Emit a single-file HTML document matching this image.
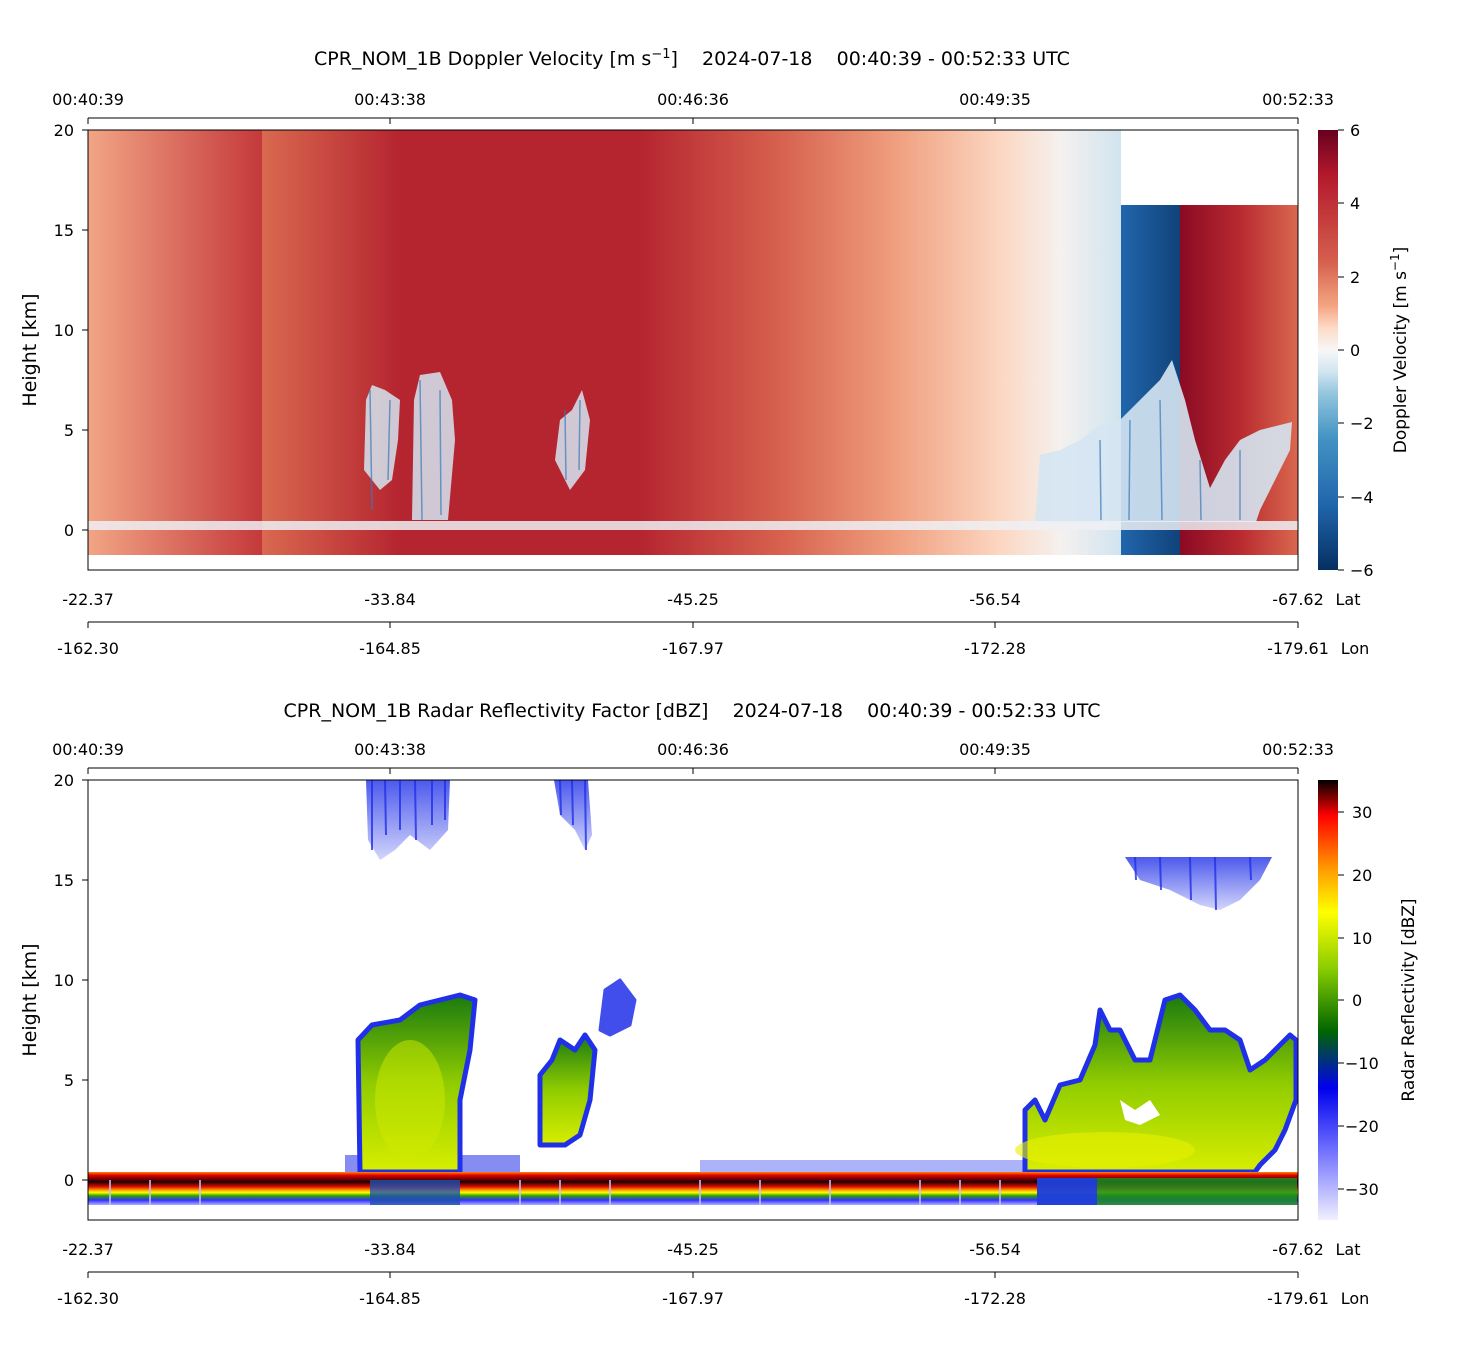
<!DOCTYPE html>
<html><head><meta charset="utf-8"><style>
body{margin:0;background:#fff;}
svg text{font-family:"DejaVu Sans","Liberation Sans",sans-serif;fill:#000;white-space:pre;}
</style></head><body>
<svg width="1459" height="1350" viewBox="0 0 1459 1350" xmlns="http://www.w3.org/2000/svg" xml:space="preserve">
<defs>
<linearGradient id="tg1" gradientUnits="userSpaceOnUse" x1="88" y1="0" x2="262" y2="0">
<stop offset="0" stop-color="#f2a585"/><stop offset="1" stop-color="#c4393b"/></linearGradient>
<linearGradient id="tg2" gradientUnits="userSpaceOnUse" x1="262" y1="0" x2="1121" y2="0">
<stop offset="0" stop-color="#d9694f"/><stop offset="0.16" stop-color="#b52530"/><stop offset="0.44" stop-color="#b52530"/>
<stop offset="0.6" stop-color="#d6604d"/><stop offset="0.74" stop-color="#f0a080"/><stop offset="0.86" stop-color="#fcd7c2"/>
<stop offset="0.93" stop-color="#f5f1ef"/><stop offset="1" stop-color="#d1e4ef"/></linearGradient>
<linearGradient id="tb" x1="0" y1="0" x2="1" y2="0"><stop offset="0" stop-color="#2166ac"/><stop offset="1" stop-color="#11427a"/></linearGradient>
<linearGradient id="tr" x1="0" y1="0" x2="1" y2="0"><stop offset="0" stop-color="#8a0a24"/><stop offset="0.5" stop-color="#b8292f"/><stop offset="1" stop-color="#d9684f"/></linearGradient>
<linearGradient id="cb1" x1="0" y1="0" x2="0" y2="1">
<stop offset="0" stop-color="#67001f"/><stop offset="0.1" stop-color="#b2182b"/><stop offset="0.3" stop-color="#d6604d"/><stop offset="0.4" stop-color="#f4a582"/><stop offset="0.45" stop-color="#fddbc7"/><stop offset="0.5" stop-color="#f7f7f7"/><stop offset="0.55" stop-color="#d1e5f0"/><stop offset="0.6" stop-color="#92c5de"/><stop offset="0.7" stop-color="#4393c3"/><stop offset="0.85" stop-color="#2166ac"/><stop offset="1" stop-color="#053061"/></linearGradient>
<linearGradient id="cb2" x1="0" y1="0" x2="0" y2="1">
<stop offset="0" stop-color="#000000"/><stop offset="0.08" stop-color="#ff0000"/><stop offset="0.2" stop-color="#ff9900"/><stop offset="0.3" stop-color="#ffff00"/><stop offset="0.43" stop-color="#88cc00"/><stop offset="0.57" stop-color="#006600"/><stop offset="0.7" stop-color="#0000ee"/><stop offset="0.85" stop-color="#7777ff"/><stop offset="1" stop-color="#f0f0ff"/></linearGradient>
<linearGradient id="gc" x1="0" y1="0" x2="0" y2="1"><stop offset="0" stop-color="#1a7a10"/><stop offset="0.5" stop-color="#90cc00"/><stop offset="1" stop-color="#d8ee00"/></linearGradient>
<linearGradient id="sf" x1="0" y1="0" x2="0" y2="1">
<stop offset="0" stop-color="#ff8800"/><stop offset="0.1" stop-color="#e00000"/><stop offset="0.3" stop-color="#200000"/><stop offset="0.45" stop-color="#e01000"/><stop offset="0.55" stop-color="#ffa000"/><stop offset="0.62" stop-color="#ffff00"/><stop offset="0.72" stop-color="#30a000"/><stop offset="0.85" stop-color="#3030ff"/><stop offset="1" stop-color="#b0b0ff"/></linearGradient>
<linearGradient id="bt" x1="0" y1="0" x2="0" y2="1"><stop offset="0" stop-color="#2030e8" stop-opacity="0.8"/><stop offset="1" stop-color="#2030e8" stop-opacity="0.2"/></linearGradient>
</defs>

<!-- TOP PLOT -->
<text x="692" y="65" font-size="19" text-anchor="middle">CPR_NOM_1B Doppler Velocity [m s<tspan dy="-7" font-size="13">−1</tspan><tspan dy="7">]    2024-07-18    00:40:39 - 00:52:33 UTC</tspan></text>
<rect x="88" y="130" width="174" height="425" fill="url(#tg1)"/>
<rect x="262" y="130" width="859" height="425" fill="url(#tg2)"/>
<rect x="1121" y="205" width="59" height="350" fill="url(#tb)"/>
<rect x="1180" y="205" width="118" height="350" fill="url(#tr)"/>
<polygon points="1035,522 1040,455 1060,450 1080,440 1100,425 1120,420 1140,400 1160,380 1172,360 1185,400 1195,440 1210,488 1225,460 1240,440 1260,430 1292,422 1290,450 1275,480 1260,510 1256,522" fill="#d5e6f2" opacity="0.9"/>
<g fill="#d5e6f2" opacity="0.85">
<polygon points="364,470 366,400 372,385 385,390 400,400 398,440 392,480 380,490"/>
<polygon points="412,520 414,400 420,375 440,372 452,400 455,440 448,520"/>
<polygon points="555,460 560,420 572,410 582,390 590,420 585,470 570,490"/>
</g>
<g stroke="#3a7ab8" stroke-width="1.5" opacity="0.7">
<line x1="370" y1="390" x2="372" y2="510"/><line x1="390" y1="400" x2="388" y2="480"/><line x1="420" y1="380" x2="422" y2="520"/><line x1="440" y1="390" x2="441" y2="515"/><line x1="565" y1="410" x2="566" y2="480"/><line x1="580" y1="400" x2="579" y2="470"/>
<line x1="1100" y1="440" x2="1101" y2="520"/><line x1="1130" y1="420" x2="1129" y2="520"/><line x1="1160" y1="400" x2="1162" y2="520"/><line x1="1200" y1="460" x2="1201" y2="520"/><line x1="1240" y1="450" x2="1240" y2="520"/>
</g>
<rect x="88" y="521" width="1210" height="9" fill="#eef0f4" opacity="0.85"/>
<rect x="88" y="130" width="1210" height="440" fill="none" stroke="#000" stroke-width="1"/>
<line x1="88" y1="118" x2="1298" y2="118" stroke="#000"/>
<g stroke="#000"><line x1="88" y1="118" x2="88" y2="124"/><line x1="390" y1="118" x2="390" y2="124"/><line x1="693" y1="118" x2="693" y2="124"/><line x1="995" y1="118" x2="995" y2="124"/><line x1="1298" y1="118" x2="1298" y2="124"/></g>
<g font-size="16" text-anchor="middle"><text x="88" y="105">00:40:39</text><text x="390" y="105">00:43:38</text><text x="693" y="105">00:46:36</text><text x="995" y="105">00:49:35</text><text x="1298" y="105">00:52:33</text></g>
<g stroke="#000"><line x1="82" y1="130" x2="88" y2="130"/><line x1="82" y1="230" x2="88" y2="230"/><line x1="82" y1="330" x2="88" y2="330"/><line x1="82" y1="430" x2="88" y2="430"/><line x1="82" y1="530" x2="88" y2="530"/></g>
<g font-size="16" text-anchor="end"><text x="74" y="136">20</text><text x="74" y="236">15</text><text x="74" y="336">10</text><text x="74" y="436">5</text><text x="74" y="536">0</text></g>
<text transform="translate(36,350) rotate(-90)" font-size="19" text-anchor="middle">Height [km]</text>
<g font-size="16" text-anchor="middle"><text x="88" y="605">-22.37</text><text x="390" y="605">-33.84</text><text x="693" y="605">-45.25</text><text x="995" y="605">-56.54</text><text x="1298" y="605">-67.62</text><text x="1348" y="605">Lat</text>
<text x="88" y="654">-162.30</text><text x="390" y="654">-164.85</text><text x="693" y="654">-167.97</text><text x="995" y="654">-172.28</text><text x="1298" y="654">-179.61</text><text x="1355" y="654">Lon</text></g>
<line x1="88" y1="622" x2="1298" y2="622" stroke="#000"/>
<g stroke="#000"><line x1="88" y1="622" x2="88" y2="628"/><line x1="390" y1="622" x2="390" y2="628"/><line x1="693" y1="622" x2="693" y2="628"/><line x1="995" y1="622" x2="995" y2="628"/><line x1="1298" y1="622" x2="1298" y2="628"/></g>
<rect x="1318" y="130" width="20" height="440" fill="url(#cb1)"/>
<g stroke="#000"><line x1="1338" y1="130" x2="1344" y2="130"/><line x1="1338" y1="203" x2="1344" y2="203"/><line x1="1338" y1="277" x2="1344" y2="277"/><line x1="1338" y1="350" x2="1344" y2="350"/><line x1="1338" y1="423" x2="1344" y2="423"/><line x1="1338" y1="497" x2="1344" y2="497"/><line x1="1338" y1="570" x2="1344" y2="570"/></g>
<g font-size="16"><text x="1350" y="136">6</text><text x="1350" y="209">4</text><text x="1350" y="283">2</text><text x="1350" y="356">0</text><text x="1350" y="429">−2</text><text x="1350" y="503">−4</text><text x="1350" y="576">−6</text></g>
<text transform="translate(1406,350) rotate(-90)" font-size="17" text-anchor="middle">Doppler Velocity [m s<tspan dy="-7" font-size="12">−1</tspan><tspan dy="7">]</tspan></text>

<!-- BOTTOM PLOT -->
<text x="692" y="717" font-size="19" text-anchor="middle">CPR_NOM_1B Radar Reflectivity Factor [dBZ]    2024-07-18    00:40:39 - 00:52:33 UTC</text>
<g fill="url(#bt)">
<polygon points="366,780 450,780 448,830 430,850 410,835 395,850 380,860 368,840"/>
<polygon points="554,780 588,780 592,835 585,850 575,830 560,815"/>
<polygon points="1125,857 1272,857 1260,880 1240,900 1220,910 1200,905 1170,890 1140,880"/>
</g>
<g stroke="#2030e8" stroke-width="2" opacity="0.8">
<line x1="372" y1="780" x2="372" y2="850"/><line x1="385" y1="780" x2="386" y2="835"/><line x1="400" y1="780" x2="400" y2="830"/><line x1="415" y1="780" x2="416" y2="840"/><line x1="432" y1="780" x2="432" y2="825"/><line x1="445" y1="780" x2="445" y2="820"/>
<line x1="560" y1="780" x2="561" y2="815"/><line x1="572" y1="780" x2="573" y2="825"/><line x1="585" y1="780" x2="586" y2="850"/>
<line x1="1135" y1="857" x2="1136" y2="880"/><line x1="1160" y1="857" x2="1161" y2="890"/><line x1="1190" y1="857" x2="1191" y2="900"/><line x1="1215" y1="857" x2="1216" y2="910"/><line x1="1250" y1="857" x2="1251" y2="880"/>
</g>
<g fill="#2030e8" stroke="#2030e8" stroke-width="3" stroke-linejoin="round" opacity="0.85">
<polygon points="600,1030 605,990 620,980 635,1000 630,1025 610,1035"/>
</g>
<rect x="700" y="1160" width="335" height="12" fill="#3040f0" opacity="0.4"/>
<rect x="345" y="1155" width="175" height="17" fill="#2030e8" opacity="0.55"/>
<g fill="url(#gc)" stroke="#2030e8" stroke-width="5" stroke-linejoin="round">
<polygon points="360,1172 358,1040 372,1025 400,1020 420,1005 440,1000 460,995 475,1000 470,1050 460,1100 460,1172"/>
<polygon points="540,1145 540,1075 552,1060 560,1040 575,1050 585,1035 595,1050 590,1100 580,1135 565,1145"/>
<polygon points="1025,1172 1025,1110 1035,1100 1045,1120 1060,1085 1080,1080 1095,1045 1100,1010 1110,1030 1120,1030 1135,1060 1150,1060 1165,1000 1180,995 1195,1010 1210,1030 1225,1030 1240,1040 1250,1070 1265,1060 1290,1035 1296,1040 1296,1100 1285,1130 1275,1150 1260,1165 1255,1172"/>
</g>
<polygon points="1120,1100 1135,1110 1150,1100 1160,1115 1140,1125 1125,1120" fill="#fff"/>
<ellipse cx="1105" cy="1150" rx="90" ry="18" fill="#e8f000" opacity="0.6"/>
<ellipse cx="410" cy="1100" rx="35" ry="60" fill="#d0ea00" opacity="0.5"/>
<rect x="88" y="1172" width="1210" height="33" fill="url(#sf)"/>
<rect x="1037" y="1178" width="260" height="27" fill="#1a8a20" opacity="0.85"/>
<rect x="1037" y="1178" width="60" height="27" fill="#2030ff" opacity="0.8"/>
<rect x="370" y="1180" width="90" height="25" fill="#1f50b0" opacity="0.8"/>
<g stroke="#c0c0ff" stroke-width="2" opacity="0.8">
<line x1="110" y1="1180" x2="110" y2="1205"/><line x1="150" y1="1180" x2="150" y2="1205"/><line x1="200" y1="1180" x2="200" y2="1205"/><line x1="520" y1="1180" x2="520" y2="1205"/><line x1="560" y1="1180" x2="560" y2="1205"/><line x1="610" y1="1180" x2="610" y2="1205"/><line x1="700" y1="1180" x2="700" y2="1205"/><line x1="760" y1="1180" x2="760" y2="1205"/><line x1="830" y1="1180" x2="830" y2="1205"/><line x1="920" y1="1180" x2="920" y2="1205"/><line x1="960" y1="1180" x2="960" y2="1205"/><line x1="1000" y1="1180" x2="1000" y2="1205"/>
</g>
<rect x="88" y="780" width="1210" height="440" fill="none" stroke="#000" stroke-width="1"/>
<line x1="88" y1="768" x2="1298" y2="768" stroke="#000"/>
<g stroke="#000"><line x1="88" y1="768" x2="88" y2="774"/><line x1="390" y1="768" x2="390" y2="774"/><line x1="693" y1="768" x2="693" y2="774"/><line x1="995" y1="768" x2="995" y2="774"/><line x1="1298" y1="768" x2="1298" y2="774"/></g>
<g font-size="16" text-anchor="middle"><text x="88" y="755">00:40:39</text><text x="390" y="755">00:43:38</text><text x="693" y="755">00:46:36</text><text x="995" y="755">00:49:35</text><text x="1298" y="755">00:52:33</text></g>
<g stroke="#000"><line x1="82" y1="780" x2="88" y2="780"/><line x1="82" y1="880" x2="88" y2="880"/><line x1="82" y1="980" x2="88" y2="980"/><line x1="82" y1="1080" x2="88" y2="1080"/><line x1="82" y1="1180" x2="88" y2="1180"/></g>
<g font-size="16" text-anchor="end"><text x="74" y="786">20</text><text x="74" y="886">15</text><text x="74" y="986">10</text><text x="74" y="1086">5</text><text x="74" y="1186">0</text></g>
<text transform="translate(36,1000) rotate(-90)" font-size="19" text-anchor="middle">Height [km]</text>
<g font-size="16" text-anchor="middle"><text x="88" y="1255">-22.37</text><text x="390" y="1255">-33.84</text><text x="693" y="1255">-45.25</text><text x="995" y="1255">-56.54</text><text x="1298" y="1255">-67.62</text><text x="1348" y="1255">Lat</text>
<text x="88" y="1304">-162.30</text><text x="390" y="1304">-164.85</text><text x="693" y="1304">-167.97</text><text x="995" y="1304">-172.28</text><text x="1298" y="1304">-179.61</text><text x="1355" y="1304">Lon</text></g>
<line x1="88" y1="1272" x2="1298" y2="1272" stroke="#000"/>
<g stroke="#000"><line x1="88" y1="1272" x2="88" y2="1278"/><line x1="390" y1="1272" x2="390" y2="1278"/><line x1="693" y1="1272" x2="693" y2="1278"/><line x1="995" y1="1272" x2="995" y2="1278"/><line x1="1298" y1="1272" x2="1298" y2="1278"/></g>
<rect x="1318" y="780" width="20" height="440" fill="url(#cb2)"/>
<g stroke="#000"><line x1="1338" y1="812" x2="1344" y2="812"/><line x1="1338" y1="875" x2="1344" y2="875"/><line x1="1338" y1="938" x2="1344" y2="938"/><line x1="1338" y1="1000" x2="1344" y2="1000"/><line x1="1338" y1="1063" x2="1344" y2="1063"/><line x1="1338" y1="1126" x2="1344" y2="1126"/><line x1="1338" y1="1189" x2="1344" y2="1189"/></g>
<g font-size="16"><text x="1352" y="818">30</text><text x="1352" y="881">20</text><text x="1352" y="944">10</text><text x="1352" y="1006">0</text><text x="1345" y="1069">−10</text><text x="1345" y="1132">−20</text><text x="1345" y="1195">−30</text></g>
<text transform="translate(1414,1000) rotate(-90)" font-size="17" text-anchor="middle">Radar Reflectivity [dBZ]</text>
</svg>
</body></html>
